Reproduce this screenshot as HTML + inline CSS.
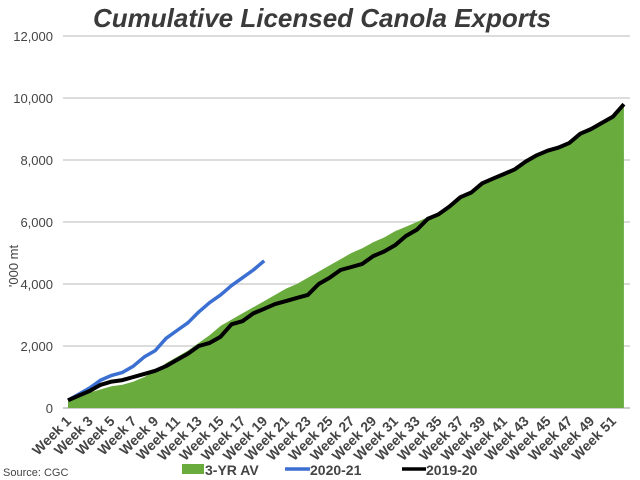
<!DOCTYPE html>
<html><head><meta charset="utf-8"><style>
body{margin:0;background:#fff;}
svg{display:block;font-family:"Liberation Sans",sans-serif;}
</style></head><body>
<svg id="c" width="640" height="480" xmlns="http://www.w3.org/2000/svg">
<text x="322" y="27" text-anchor="middle" font-size="26" font-weight="bold" font-style="italic" fill="#3a3a3a">Cumulative Licensed Canola Exports</text>
<g id="grid"></g>
<g id="series"></g>
<g id="labels" font-size="14" font-weight="bold" fill="#444"></g>
<text x="3" y="476" font-size="11" fill="#444">Source: CGC</text>
<rect x="182" y="464" width="22" height="10" fill="#6aab3e"/>
<text x="205" y="475" font-size="14" font-weight="bold" fill="#444">3-YR AV</text>
<line x1="285" y1="469" x2="310" y2="469" stroke="#3b6fd1" stroke-width="3.5"/>
<text x="310" y="475" font-size="14" font-weight="bold" fill="#444">2020-21</text>
<line x1="402" y1="469" x2="426" y2="469" stroke="#000" stroke-width="3.5"/>
<text x="426" y="475" font-size="14" font-weight="bold" fill="#444">2019-20</text>
<text transform="translate(18,266) rotate(-90)" text-anchor="middle" font-size="13" fill="#444">'000 mt</text>
</svg>
<script>
var X=function(w){return 68+(w-1)*10.9;},Y=function(v){return 408-31*v;};
var g='';
for(var v=0;v<=12;v+=2){var y=Y(v);
 g+='<line x1="63" x2="630" y1="'+y+'" y2="'+y+'" stroke="'+(v==0?'#ccc':'#d0d0d0')+'" stroke-width="'+(v==0?2:1.5)+'"/>';
 g+='<text x="53" y="'+(y+5)+'" text-anchor="end" font-size="13" fill="#444">'+(v==0?'0':(v*1000).toLocaleString('en-US'))+'</text>';}
document.getElementById('grid').innerHTML=g;
var blk=[0.25,0.4,0.55,0.75,0.85,0.9,1.0,1.1,1.2,1.35,1.55,1.75,2.0,2.1,2.3,2.7,2.8,3.05,3.2,3.35,3.45,3.55,3.65,4.0,4.2,4.45,4.55,4.65,4.9,5.05,5.25,5.55,5.75,6.1,6.25,6.5,6.8,6.95,7.25,7.4,7.55,7.7,7.95,8.15,8.3,8.4,8.55,8.85,9.0,9.2,9.4,9.65];
blk[51]=9.8;
var blu=[0.25,0.45,0.65,0.9,1.05,1.15,1.35,1.65,1.85,2.25,2.5,2.75,3.1,3.4,3.65,3.95,4.2,4.45,4.75];
var grn=[0.2,0.35,0.5,0.6,0.7,0.75,0.85,1.0,1.2,1.45,1.65,1.85,2.1,2.35,2.65,2.85,3.05,3.25,3.45,3.65,3.85,4.0,4.2,4.4,4.6,4.8,5.0,5.15,5.35,5.5,5.7,5.85,6.0,6.15];
for(var i=34;i<52;i++)grn.push(blk[i]+0.02);
grn[51]=9.7;
function pts(a){return a.map(function(v,i){return X(i+1).toFixed(1)+','+Y(v).toFixed(1);}).join(' ');}
var s='<polygon fill="#6aab3e" points="'+X(1)+','+Y(0)+' '+pts(grn)+' '+X(52)+','+Y(0)+'"/>';
s+='<polyline fill="none" stroke="#3b6fd1" stroke-width="3.5" stroke-linejoin="round" points="'+pts(blu)+'"/>';
s+='<polyline fill="none" stroke="#000" stroke-width="4" stroke-linejoin="round" points="'+pts(blk)+'"/>';
document.getElementById('series').innerHTML=s;
var l='';
for(var w=1;w<=52;w+=2){var x=X(w)+4;l+='<text transform="translate('+x+',422) rotate(-45)" text-anchor="end">Week '+w+'</text>';}
document.getElementById('labels').innerHTML=l;
</script>
</body></html>
